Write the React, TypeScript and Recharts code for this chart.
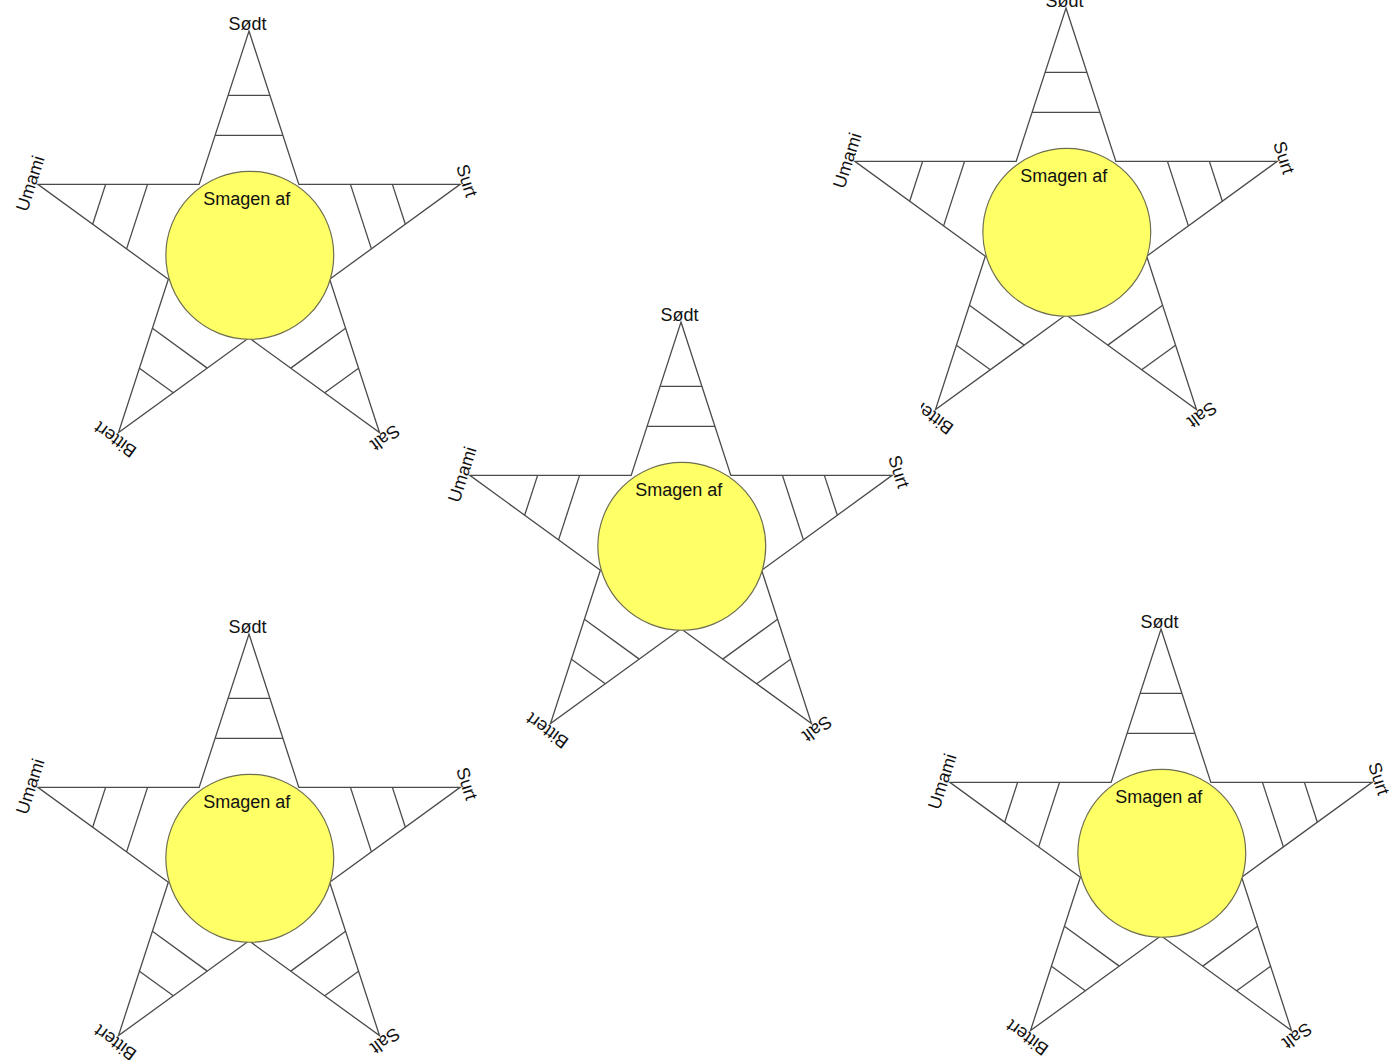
import React from 'react';
import { RadarChart, Radar, PolarAngleAxis, PolarRadiusAxis } from 'recharts';

// ---- data ----
const tastes = ['Sødt', 'Surt', 'Salt', 'Bittert', 'Umami'];
const tipValues = [1, 1, 1, 1, 1];
const notchValues = [0.382, 0.382, 0.382, 0.382, 0.382];
const hatchLevels = [0.42, 0.68];
const centerTitle = 'Smagen af';

// build radar rows: tip, notch, tip, notch ...
const starData = tastes.flatMap((t, i) => [
  { axis: t, value: tipValues[i], isTip: true },
  { axis: `${t}-${tastes[(i + 1) % tastes.length]}`, value: notchValues[i], isTip: false },
]);

// ---- layout ----
const BOX = 480;
const RADIUS = 222;
const stars = [
  { x: 248.5, y: 252.7, bg: 'transparent' },
  { x: 1065.7, y: 229.5, bg: 'transparent' },
  { x: 680.5, y: 543.8, bg: '#ffffff' },
  { x: 249, y: 855.5, bg: 'transparent' },
  { x: 1160.5, y: 850.5, bg: 'transparent' },
];

const LINE = '#4a4a4a';
const FONT = '"Liberation Sans", Arial, sans-serif';

const StarShape = (props: any) => {
  const pts = props.points as any[];
  if (!pts || pts.length < 10) return null;
  const cx = pts[0].cx;
  const cy = pts[0].cy;
  const n = pts.length;
  const poly = pts.map((p) => `${p.x},${p.y}`).join(' ');
  const hatches: React.ReactNode[] = [];
  const labels: React.ReactNode[] = [];
  for (let i = 0; i < n; i += 2) {
    const tip = pts[i];
    const a = pts[(i + n - 1) % n];
    const b = pts[(i + 1) % n];
    hatchLevels.forEach((t, k) => {
      hatches.push(
        <line
          key={`h${i}-${k}`}
          x1={tip.x + (a.x - tip.x) * t}
          y1={tip.y + (a.y - tip.y) * t}
          x2={tip.x + (b.x - tip.x) * t}
          y2={tip.y + (b.y - tip.y) * t}
          stroke={LINE}
          strokeWidth={1.3}
        />
      );
    });
    const rot = 90 - tip.angle;
    labels.push(
      <text
        key={`l${i}`}
        x={tip.x}
        y={tip.y}
        dx={-1.5}
        dy={-1.5}
        textAnchor="middle"
        fontFamily={FONT}
        fontSize={18}
        fill="#111111"
        transform={`rotate(${rot} ${tip.x} ${tip.y})`}
      >
        {tip.payload.axis}
      </text>
    );
  }
  const rc = pts[1].radius * 0.99;
  const ccx = cx + 0.8;
  const ccy = cy + 2.3;
  return (
    <g>
      <polygon points={poly} fill="#ffffff" stroke={LINE} strokeWidth={1.3} strokeLinejoin="miter" />
      {hatches}
      <circle cx={ccx} cy={ccy} r={rc} fill="#ffff66" stroke="#6e6e50" strokeWidth={1.2} />
      <text
        x={ccx - 3}
        y={ccy - 50}
        textAnchor="middle"
        fontFamily={FONT}
        fontSize={18}
        fill="#111111"
      >
        {centerTitle}
      </text>
      {labels}
    </g>
  );
};

const Star = ({ x, y, bg }: { x: number; y: number; bg: string }) => (
  <div
    style={{
      position: 'absolute',
      left: x - BOX / 2,
      top: y - BOX / 2,
      width: BOX,
      height: BOX,
      background: bg,
    }}
  >
    <RadarChart
      width={BOX}
      height={BOX}
      cx={BOX / 2}
      cy={BOX / 2}
      outerRadius={RADIUS}
      startAngle={90}
      endAngle={-270}
      data={starData}
      margin={{ top: 0, right: 0, bottom: 0, left: 0 }}
    >
      <PolarAngleAxis dataKey="axis" tick={false} axisLine={false} tickLine={false} />
      <PolarRadiusAxis type="number" domain={[0, 1]} tick={false} axisLine={false} />
      <Radar dataKey="value" isAnimationActive={false} shape={StarShape} dot={false} />
    </RadarChart>
  </div>
);

export default function App() {
  return (
    <div
      style={{
        position: 'absolute',
        left: 0,
        top: 0,
        width: 1394,
        height: 1060,
        overflow: 'hidden',
        background: '#ffffff',
      }}
    >
      {stars.map((s, i) => (
        <Star key={i} x={s.x} y={s.y} bg={s.bg} />
      ))}
    </div>
  );
}
